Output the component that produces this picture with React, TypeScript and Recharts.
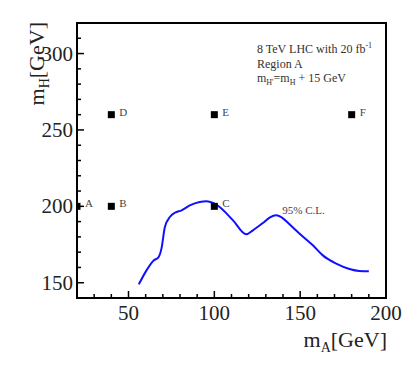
import { ComposedChart, Line, Scatter, XAxis, YAxis, ReferenceArea, ReferenceDot } from 'recharts';

const SERIF = "'Liberation Serif', 'Times New Roman', serif";

// 95% C.L. contour
const curveMA = [56, 60.5, 64.8, 67.3, 69.2, 71.2, 74.1, 77, 80.9, 85.7, 91.5, 95.4, 99.3, 103.1, 110.9, 118.6, 122.5, 128.3, 132.2, 136.1, 139, 143.8, 149.7, 157.4, 163.2, 171, 178.7, 184.5, 190];
const curveMH = [148.9, 158.1, 164.7, 166.4, 172.3, 186.5, 193, 195.8, 197.4, 200.6, 202.8, 203.3, 202.2, 199.6, 190.8, 181.7, 184.3, 189.1, 192.6, 194.1, 193, 188.2, 182.1, 174.5, 167.9, 162.5, 159, 157.7, 157.5];

// benchmark points
const pointNames = ['A', 'B', 'C', 'D', 'E', 'F'];
const pointMA = [20, 40, 100, 40, 100, 180];
const pointMH = [200, 200, 200, 260, 260, 260];

// axes
const xDomain = [20, 200];
const yDomain = [140, 320];
const xTicks = [30, 40, 50, 60, 70, 80, 90, 100, 110, 120, 130, 140, 150, 160, 170, 180, 190, 200];
const xLabels = [50, 100, 150, 200];
const yTicks = [150, 160, 170, 180, 190, 200, 210, 220, 230, 240, 250, 260, 270, 280, 290, 300, 310];
const yLabels = [150, 200, 250, 300];

const clLabel = { x: 139.6, y: 195.2, text: '95% C.L.' };

const curveData = curveMA.map((x, i) => ({ x, y: curveMH[i] }));
const pointData = pointNames.map((name, i) => ({ name, x: pointMA[i], y: pointMH[i] }));

const XTick = (props: any) => {
  const { x, y, payload } = props;
  const major = xLabels.includes(payload.value);
  return (
    <g>
      <line x1={x} x2={x} y1={y} y2={y - (major ? 7 : 4)} stroke="#000" strokeWidth={1.5} />
      {major && (
        <text x={x} y={y + 22} textAnchor="middle" fontSize={21} style={{ fontFamily: SERIF }} fill="#222">
          {payload.value}
        </text>
      )}
    </g>
  );
};

const YTick = (props: any) => {
  const { x, y, payload } = props;
  const major = yLabels.includes(payload.value);
  return (
    <g>
      <line x1={x} x2={x + (major ? 7 : 4)} y1={y} y2={y} stroke="#000" strokeWidth={1.5} />
      {major && (
        <text x={x - 4} y={y + 7} textAnchor="end" fontSize={21} style={{ fontFamily: SERIF }} fill="#222">
          {payload.value}
        </text>
      )}
    </g>
  );
};

const PointMark = (props: any) => {
  const { cx, cy, payload } = props;
  return (
    <g>
      <rect x={cx - 3.5} y={cy - 3.5} width={7} height={7} fill="#000" />
      <text x={cx + 8} y={cy + 1} fontSize={11} style={{ fontFamily: SERIF }} fill="#444">
        {payload.name}
      </text>
    </g>
  );
};

export default function App() {
  return (
    <div style={{ position: 'absolute', left: 0, top: 0, width: 419, height: 368, background: '#fff' }}>
      <ComposedChart width={419} height={368} margin={{ top: 23, right: 33, left: 0, bottom: 0 }}>
        <XAxis
          dataKey="x"
          type="number"
          domain={xDomain}
          allowDataOverflow
          ticks={xTicks}
          interval={0}
          tickSize={0}
          tickMargin={0}
          height={70}
          axisLine={false}
          tickLine={false}
          tick={<XTick />}
        />
        <YAxis
          dataKey="y"
          type="number"
          domain={yDomain}
          allowDataOverflow
          ticks={yTicks}
          interval={0}
          tickSize={0}
          tickMargin={0}
          width={77}
          axisLine={false}
          tickLine={false}
          tick={<YTick />}
        />
        <Line
          data={curveData}
          dataKey="y"
          type="monotone"
          stroke="#1010ff"
          strokeWidth={2}
          dot={false}
          isAnimationActive={false}
        />
        <ReferenceArea x1={20} x2={200} y1={140} y2={320} fill="none" stroke="#000" strokeWidth={2} />
        <Scatter data={pointData} dataKey="y" shape={<PointMark />} isAnimationActive={false} />
        <ReferenceDot
          x={clLabel.x}
          y={clLabel.y}
          r={0}
          shape={(p: any) => (
            <text x={p.cx} y={p.cy} fontSize={11} style={{ fontFamily: SERIF }} fill="#444">
              {clLabel.text}
            </text>
          )}
        />
      </ComposedChart>
      <svg width={419} height={368} style={{ position: 'absolute', left: 0, top: 0, pointerEvents: 'none' }}>
        <g style={{ fontFamily: SERIF }} fill="#333" fontSize={12}>
          <text x={257} y={53}>
            8 TeV LHC with 20 fb<tspan fontSize={8} dy={-5}>-1</tspan>
          </text>
          <text x={257} y={68}>Region A</text>
          <text x={257} y={82}>
            m<tspan fontSize={8} dy={3}>H'</tspan>
            <tspan dy={-3}>=m</tspan>
            <tspan fontSize={8} dy={3}>H</tspan>
            <tspan dy={-3}> + 15 GeV</tspan>
          </text>
        </g>
        <text x={387} y={347} textAnchor="end" style={{ fontFamily: SERIF }} fontSize={22} fill="#222">
          m<tspan fontSize={14} dy={5}>A</tspan>
          <tspan dy={-5}>[GeV]</tspan>
        </text>
        <text
          transform="translate(44, 22) rotate(-90)"
          textAnchor="end"
          style={{ fontFamily: SERIF }}
          fontSize={22}
          fill="#222"
        >
          m<tspan fontSize={14} dy={5}>H</tspan>
          <tspan dy={-5}>[GeV]</tspan>
        </text>
      </svg>
    </div>
  );
}
